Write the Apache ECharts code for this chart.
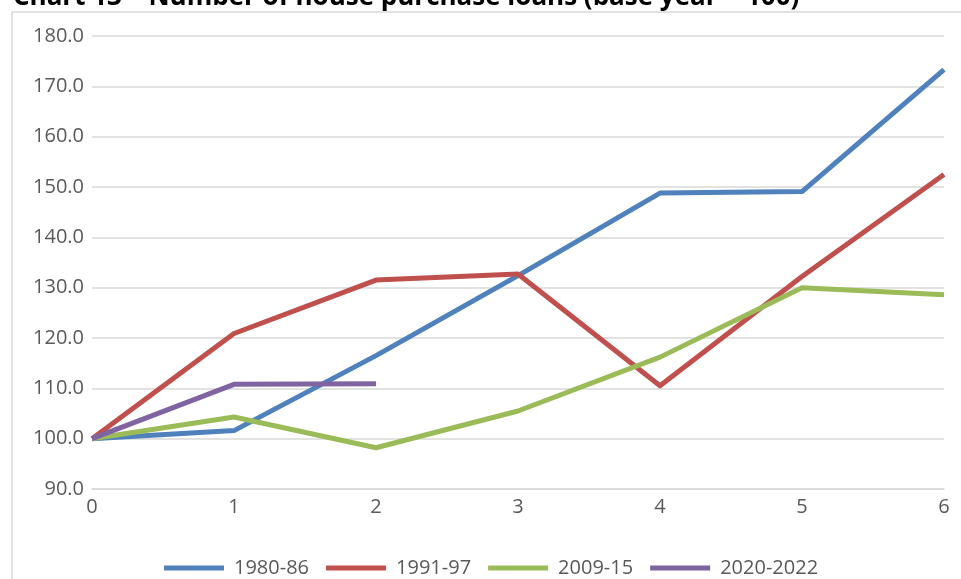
<!DOCTYPE html>
<html>
<head>
<meta charset="utf-8">
<script src="https://cdn.jsdelivr.net/npm/echarts@6/dist/echarts.min.js"></script>
<style>
  html, body { margin: 0; padding: 0; background: #fff; }
  #chart { width: 961px; height: 579px; }
</style>
</head>
<body>
<div id="chart"></div>
<script>
// 数据
var years = ['0', '1', '2', '3', '4', '5', '6']
var s1980 = [100.0, 101.6, 116.5, 132.4, 148.8, 149.1, 173.3]
var s1991 = [100.0, 120.9, 131.5, 132.7, 110.5, 132.2, 152.5]
var s2009 = [100.0, 104.3, 98.2, 105.5, 116.2, 130.0, 128.6]
var s2020 = [100.0, 110.8, 110.9]

var titleText = 'Chart 13 – Number of house purchase loans (base year = 100)'
var font = '"Open Sans", "Liberation Sans", sans-serif'
var grey = '#d9d9d9'

var myChart = echarts.init(document.getElementById('chart'))

function lineSeries (name, data, color) {
  return {
    name: name,
    type: 'line',
    data: data,
    showSymbol: false,
    symbol: 'none',
    color: color,
    lineStyle: { width: 5, color: color, join: 'round' }
  }
}

var option = {
  animation: false,
  graphic: [
    {
      type: 'rect',
      shape: { x: 12, y: 12, width: 1200, height: 1200 },
      style: { fill: 'none', stroke: grey, lineWidth: 1.5 }
    },
    {
      type: 'text',
      x: 13,
      y: 11,
      style: {
        text: titleText,
        font: 'bold 26px ' + font,
        fill: '#000',
        textVerticalAlign: 'bottom',
        verticalAlign: 'bottom'
      }
    }
  ],
  grid: { left: 92, right: 17, top: 36, bottom: 90 },
  legend: {
    left: 159,
    top: 553,
    icon: 'rect',
    itemWidth: 60,
    itemHeight: 5,
    itemGap: 17,
    textStyle: { fontFamily: font, fontSize: 20, color: '#595959', padding: [0, 0, 0, 5] },
    data: ['1980-86', '1991-97', '2009-15', '2020-2022']
  },
  xAxis: {
    type: 'category',
    boundaryGap: false,
    data: years,
    axisLine: { lineStyle: { color: grey, width: 1.5 } },
    axisTick: { show: false },
    axisLabel: { fontFamily: font, fontSize: 20, color: '#595959', margin: 8 }
  },
  yAxis: {
    type: 'value',
    min: 90,
    max: 180,
    interval: 10,
    axisLine: { show: false },
    axisTick: { show: false },
    splitLine: { lineStyle: { color: grey, width: 1.5 } },
    axisLabel: {
      fontFamily: font, fontSize: 20, color: '#595959', margin: 8,
      formatter: function (v) { return v.toFixed(1) }
    }
  },
  series: [
    lineSeries('1980-86', s1980, '#4f81bd'),
    lineSeries('1991-97', s1991, '#c0504d'),
    lineSeries('2009-15', s2009, '#9bbb59'),
    lineSeries('2020-2022', s2020, '#8064a2')
  ]
}

myChart.setOption(option)
</script>
</body>
</html>
